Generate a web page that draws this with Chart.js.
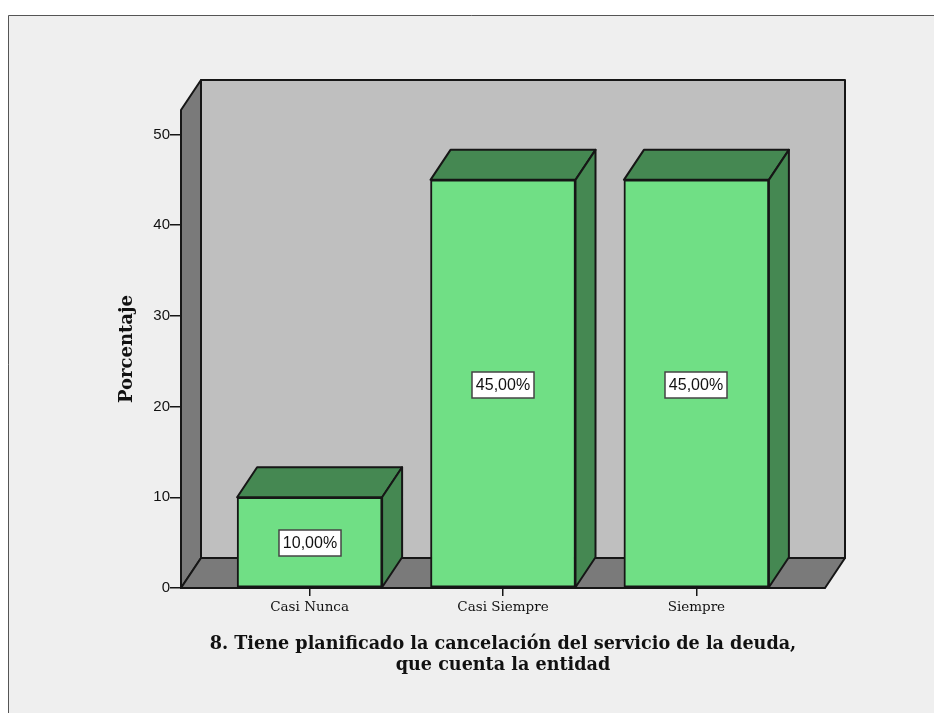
<!DOCTYPE html>
<html><head><meta charset="utf-8">
<style>html,body{margin:0;padding:0;background:#fff;overflow:hidden}canvas{display:block}</style>
<script src="https://cdn.jsdelivr.net/npm/chart.js@4"></script>
</head><body><canvas id="c" width="934" height="713"></canvas>
<script>
const categories = ['Casi Nunca', 'Casi Siempre', 'Siempre'];
const percentages = [10, 45, 45];
const yTicks = [0, 10, 20, 30, 40, 50];
const yAxisTitle = 'Porcentaje';
const xAxisTitle = ['8. Tiene planificado la cancelación del servicio de la deuda,', 'que cuenta la entidad'];

const DX = 20, DY = -30;
const OUT = '#161616';
function poly(ctx, pts, fill) {
  ctx.beginPath();
  pts.forEach((p, i) => i ? ctx.lineTo(p[0], p[1]) : ctx.moveTo(p[0], p[1]));
  ctx.closePath();
  ctx.fillStyle = fill; ctx.fill();
  ctx.lineWidth = 2; ctx.strokeStyle = OUT; ctx.lineJoin = 'round'; ctx.stroke();
}
const frame = {
  id: 'frame',
  beforeDraw(chart) {
    const c = chart.ctx;
    c.save();
    c.fillStyle = '#fff'; c.fillRect(0, 0, chart.width, chart.height);
    c.fillStyle = '#efefef'; c.fillRect(8, 15, chart.width, chart.height);
    c.strokeStyle = '#555'; c.lineWidth = 1;
    c.beginPath(); c.moveTo(8.5, chart.height); c.lineTo(8.5, 15.5); c.lineTo(chart.width, 15.5); c.stroke();
    c.restore();
  }
};
const box3d = {
  id: 'box3d',
  beforeDatasetsDraw(chart) {
    const c = chart.ctx, a = chart.chartArea;
    const L = a.left, R = a.right, T = a.top, B = a.bottom;
    c.save();
    poly(c, [[L + DX, T + DY], [R + DX, T + DY], [R + DX, B + DY], [L + DX, B + DY]], '#bfbfbf');
    poly(c, [[L, T], [L + DX, T + DY], [L + DX, B + DY], [L, B]], '#7a7a7a');
    poly(c, [[L, B], [L + DX, B + DY], [R + DX, B + DY], [R, B]], '#7a7a7a');
    chart.getDatasetMeta(0).data.forEach(b => {
      const l = b.x - b.width / 2, r = b.x + b.width / 2;
      poly(c, [[l, b.y], [l + DX, b.y + DY], [r + DX, b.y + DY], [r, b.y]], '#458852');
      poly(c, [[r, b.y], [r + DX, b.y + DY], [r + DX, b.base + DY], [r, b.base]], '#458852');
    });
    c.restore();
  },
  afterDatasetsDraw(chart) {
    const c = chart.ctx;
    c.save();
    c.font = '16px "Liberation Sans"';
    c.textAlign = 'center'; c.textBaseline = 'middle';
    chart.getDatasetMeta(0).data.forEach((b, i) => {
      const t = percentages[i].toFixed(2).replace('.', ',') + '%';
      const cy = Math.round((b.y + b.base) / 2) + 1, cx = Math.round(b.x);
      c.fillStyle = '#fff'; c.strokeStyle = '#444'; c.lineWidth = 1.5;
      c.fillRect(cx - 31, cy - 13, 62, 26);
      c.strokeRect(cx - 31, cy - 13, 62, 26);
      c.fillStyle = '#111';
      c.fillText(t, cx, cy + 1);
    });
    c.restore();
  }
};
new Chart(document.getElementById('c'), {
  type: 'bar',
  data: { datasets: [{
    data: percentages.map((v, i) => ({ x: i, y: v })),
    backgroundColor: '#70df85', borderColor: OUT, borderWidth: 2,
    barThickness: 145, borderSkipped: false
  }] },
  options: {
    responsive: false, animation: false,
    layout: { padding: { left: 0, top: 110, right: 109, bottom: 0 } },
    plugins: { legend: { display: false }, tooltip: { enabled: false } },
    scales: {
      x: {
        type: 'linear', min: -0.665, max: 2.665, offset: false,
        afterBuildTicks(s) { s.ticks = categories.map((_, i) => ({ value: i })); },
        afterFit(s) { s.height = 125; },
        grid: { offset: false, drawOnChartArea: false, drawTicks: true, tickLength: 8, color: OUT, lineWidth: 1.5 },
        border: { display: true, color: OUT, width: 2 },
        ticks: { callback: v => categories[v], maxRotation: 0, autoSkip: false, color: '#111', padding: 3,
          font: { family: '"DejaVu Serif"', size: 13.5 } },
        title: { display: true, text: xAxisTitle, color: '#111', padding: { top: 0, bottom: 37 },
          font: { family: '"DejaVu Serif"', size: 17.6, weight: 'bold', lineHeight: 1.2 } }
      },
      y: {
        min: 0, max: 52.7,
        afterBuildTicks(s) { s.ticks = yTicks.map(v => ({ value: v })); },
        afterFit(s) { s.width = 181; },
        grid: { drawOnChartArea: false, drawTicks: true, tickLength: 11, color: OUT, lineWidth: 1.5 },
        border: { display: false },
        ticks: { color: '#111', padding: 0, font: { family: '"Liberation Sans"', size: 15 } },
        title: { display: true, text: yAxisTitle, color: '#111', padding: { top: 117, bottom: 0 },
          font: { family: '"DejaVu Serif"', size: 18, weight: 'bold' } }
      }
    }
  },
  plugins: [frame, box3d]
});
</script></body></html>
